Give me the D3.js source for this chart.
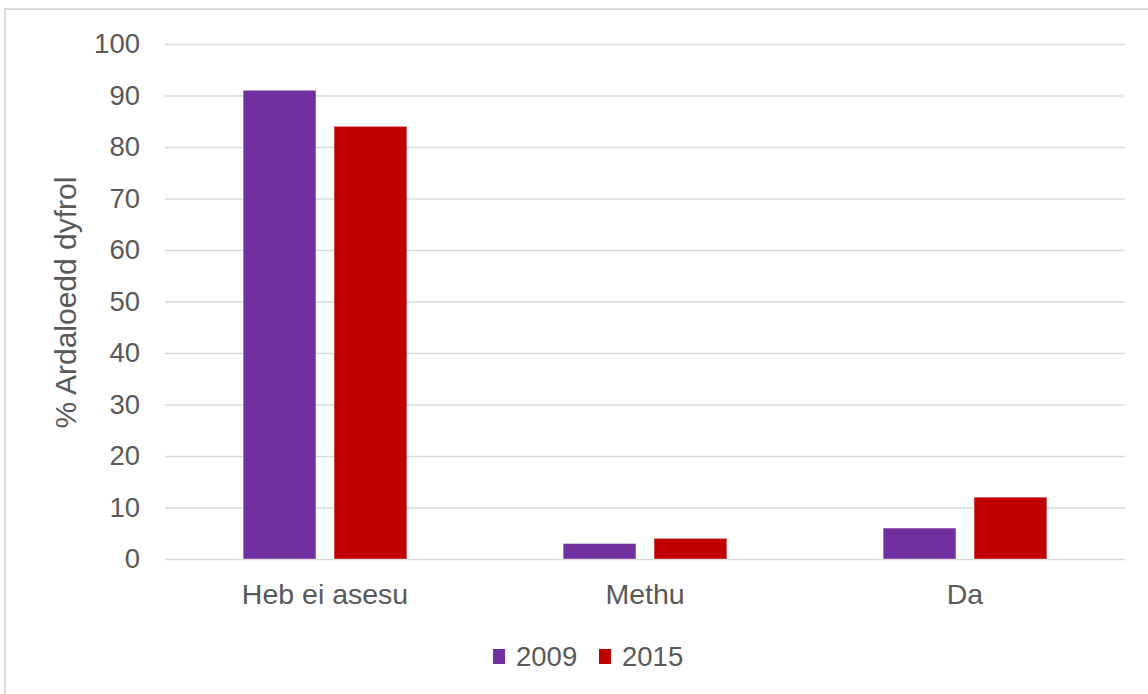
<!DOCTYPE html>
<html>
<head>
<meta charset="utf-8">
<script src="https://cdn.jsdelivr.net/npm/d3@7"></script>
<style>
  html, body { margin: 0; padding: 0; background: #fff; }
  svg { display: block; }
  text { font-family: "Liberation Sans", Arial, sans-serif; fill: #595959; }
</style>
</head>
<body>
<svg id="chart" width="1148" height="694"></svg>
<script>
const categories = ["Heb ei asesu", "Methu", "Da"];
const seriesNames = ["2009", "2015"];
const values2009 = [91, 3, 6];
const values2015 = [84, 4, 12];
const yTicks = [0, 10, 20, 30, 40, 50, 60, 70, 80, 90, 100];
const yTitle = "% Ardaloedd dyfrol";
const colors = ["#7030A0", "#C00000"];

const seriesValues = [values2009, values2015];
const data = categories.map((c, i) => ({
  category: c,
  values: seriesNames.map((s, j) => ({ series: s, value: seriesValues[j][i], color: colors[j] }))
}));

const svg = d3.select("#chart");
const W = 1148, H = 694;
const plot = { left: 165, right: 1125, top: 44, bottom: 559 };

svg.append("rect").attr("width", W).attr("height", H).attr("fill", "#fff");

// outer frame (top and left edges visible)
svg.append("path")
  .attr("d", `M5,${H} L5,9 L${W},9`)
  .attr("fill", "none").attr("stroke", "#d9d9d9").attr("stroke-width", 2);

const x0 = d3.scaleBand().domain(categories).range([plot.left, plot.right]).padding(0);
const x1 = d3.scaleBand().domain(seriesNames).range([0, x0.bandwidth()]).paddingInner(0.2).paddingOuter(0.86);
const y = d3.scaleLinear().domain([0, 100]).range([plot.bottom, plot.top]);

// gridlines
const yAxis = d3.axisLeft(y).tickValues(yTicks).tickSize(-(plot.right - plot.left)).tickPadding(25).tickFormat(d3.format("d"));
const gy = svg.append("g").attr("transform", `translate(${plot.left},0)`).call(yAxis);
gy.select(".domain").remove();
gy.selectAll(".tick line").attr("stroke", "#d9d9d9").attr("stroke-width", 1.5);
gy.selectAll(".tick text")
  .attr("fill", "#595959").style("font-size", "27.5px")
  .attr("font-family", "Liberation Sans, Arial, sans-serif");

// bars
const groups = svg.append("g").selectAll("g").data(data).join("g")
  .attr("transform", d => `translate(${x0(d.category)},0)`);
groups.selectAll("rect").data(d => d.values).join("rect")
  .attr("x", d => x1(d.series))
  .attr("width", x1.bandwidth())
  .attr("y", d => y(d.value))
  .attr("height", d => y(0) - y(d.value))
  .attr("fill", d => d.color)
  .attr("stroke", "#fff").attr("stroke-opacity", 0.35).attr("stroke-width", 1);

// x axis labels
const xAxis = d3.axisBottom(x0).tickSize(0).tickPadding(25);
const gx = svg.append("g").attr("transform", `translate(0,${plot.bottom})`).call(xAxis);
gx.select(".domain").remove();
gx.selectAll(".tick text")
  .attr("fill", "#595959").style("font-size", "28.5px")
  .attr("font-family", "Liberation Sans, Arial, sans-serif");

// y title
svg.append("text")
  .attr("transform", `translate(76,${(plot.top + plot.bottom) / 2 + 1}) rotate(-90)`)
  .attr("text-anchor", "middle")
  .style("font-size", "30px")
  .text(yTitle);

// legend
const legend = svg.append("g").attr("transform", "translate(493,0)");
const lx = [0, 106];
seriesNames.forEach((s, i) => {
  legend.append("rect")
    .attr("x", lx[i]).attr("y", 649).attr("width", 12).attr("height", 15)
    .attr("fill", colors[i]);
  legend.append("text")
    .attr("x", lx[i] + 23).attr("y", 666)
    .style("font-size", "27.5px")
    .text(s);
});
</script>
</body>
</html>
